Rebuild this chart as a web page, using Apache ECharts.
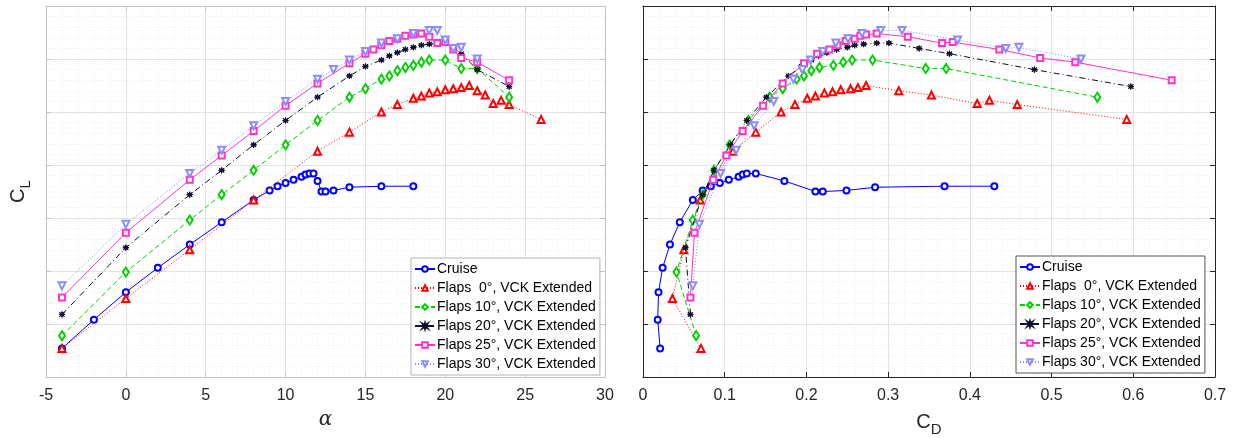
<!DOCTYPE html>
<html>
<head>
<meta charset="utf-8">
<title>Lift curves - cruise and flaps</title>
<script src="https://cdn.jsdelivr.net/npm/echarts@6/dist/echarts.min.js"></script>
<style>
  html, body { margin: 0; padding: 0; background: #fff; }
  #chart { width: 1236px; height: 438px; }
</style>
</head>
<body>
<div id="chart"></div>
<script>
// axis ticks
const alphaTicks = [-5, 0, 5, 10, 15, 20, 25, 30];
const cdTicks = [0, 0.1, 0.2, 0.3, 0.4, 0.5, 0.6, 0.7];
const clTicks = [-0.5, 0, 0.5, 1, 1.5, 2, 2.5, 3];

const seriesNames = [
  'Cruise',
  'Flaps  0°, VCK Extended',
  'Flaps 10°, VCK Extended',
  'Flaps 20°, VCK Extended',
  'Flaps 25°, VCK Extended',
  'Flaps 30°, VCK Extended'
];

// Cruise
const cruiseAlpha = [-4, -2, 0, 2, 4, 6, 8, 9, 9.5, 10, 10.5, 11, 11.25, 11.5, 11.75, 12, 12.25, 12.5, 13, 14, 16, 18];
const cruiseCL = [-0.23, 0.04, 0.30, 0.53, 0.75, 0.96, 1.17, 1.26, 1.30, 1.33, 1.36, 1.39, 1.41, 1.42, 1.42, 1.35, 1.25, 1.25, 1.26, 1.29, 1.30, 1.30];
const cruiseCD = [0.021, 0.018, 0.019, 0.024, 0.033, 0.045, 0.061, 0.073, 0.083, 0.094, 0.105, 0.117, 0.122, 0.127, 0.138, 0.173, 0.211, 0.220, 0.249, 0.284, 0.369, 0.430];

// Flaps 0
const flaps0Alpha = [-4, 0, 4, 8, 12, 14, 16, 17, 18, 18.5, 19, 19.5, 20, 20.5, 21, 21.5, 22, 22.5, 23, 23.5, 24, 26];
const flaps0CL = [-0.23, 0.24, 0.70, 1.17, 1.63, 1.81, 2.00, 2.07, 2.13, 2.15, 2.18, 2.19, 2.21, 2.22, 2.23, 2.25, 2.20, 2.16, 2.08, 2.11, 2.07, 1.93];
const flaps0CD = [0.071, 0.036, 0.050, 0.070, 0.110, 0.138, 0.169, 0.186, 0.201, 0.211, 0.222, 0.232, 0.242, 0.254, 0.263, 0.273, 0.313, 0.353, 0.409, 0.424, 0.458, 0.592];

// Flaps 10
const flaps10Alpha = [-4, 0, 4, 6, 8, 10, 12, 14, 15, 16, 16.5, 17, 17.5, 18, 18.5, 19, 20, 21, 22, 24];
const flaps10CL = [-0.11, 0.49, 0.98, 1.22, 1.45, 1.69, 1.92, 2.14, 2.22, 2.31, 2.34, 2.39, 2.42, 2.44, 2.47, 2.49, 2.49, 2.41, 2.41, 2.14];
const flaps10CD = [0.065, 0.041, 0.061, 0.073, 0.087, 0.106, 0.129, 0.155, 0.171, 0.188, 0.197, 0.206, 0.216, 0.233, 0.245, 0.256, 0.281, 0.346, 0.371, 0.556];

// Flaps 20
const flaps20Alpha = [-4, 0, 4, 6, 8, 10, 12, 14, 15, 16, 16.5, 17, 17.5, 18, 18.5, 19, 19.5, 20, 20.5, 21, 22, 24];
const flaps20CL = [0.09, 0.72, 1.22, 1.45, 1.69, 1.92, 2.14, 2.34, 2.43, 2.49, 2.53, 2.56, 2.59, 2.61, 2.63, 2.64, 2.65, 2.65, 2.60, 2.55, 2.40, 2.24];
const flaps20CD = [0.058, 0.052, 0.073, 0.087, 0.107, 0.127, 0.151, 0.178, 0.194, 0.206, 0.215, 0.225, 0.237, 0.250, 0.259, 0.270, 0.286, 0.301, 0.338, 0.375, 0.479, 0.597];

// Flaps 25
const flaps25Alpha = [-4, 0, 4, 6, 8, 10, 12, 14, 15, 15.5, 16, 16.5, 17, 17.5, 18, 18.5, 19, 19.5, 20, 20.5, 21, 22, 24];
const flaps25CL = [0.25, 0.86, 1.36, 1.59, 1.82, 2.06, 2.27, 2.46, 2.55, 2.59, 2.63, 2.67, 2.69, 2.72, 2.73, 2.74, 2.71, 2.65, 2.66, 2.59, 2.51, 2.47, 2.30];
const flaps25CD = [0.058, 0.063, 0.086, 0.102, 0.122, 0.147, 0.171, 0.197, 0.213, 0.228, 0.238, 0.248, 0.259, 0.266, 0.273, 0.286, 0.324, 0.366, 0.379, 0.436, 0.486, 0.529, 0.647];

// Flaps 30
const flaps30Alpha = [-4, 0, 4, 6, 8, 10, 12, 13, 14, 15, 16, 17, 18, 19, 19.5, 20, 20.5, 21, 22];
const flaps30CL = [0.36, 0.94, 1.42, 1.64, 1.87, 2.10, 2.31, 2.40, 2.49, 2.57, 2.65, 2.69, 2.74, 2.77, 2.77, 2.68, 2.60, 2.61, 2.50];
const flaps30CD = [0.061, 0.069, 0.095, 0.114, 0.136, 0.160, 0.184, 0.195, 0.205, 0.220, 0.236, 0.251, 0.268, 0.291, 0.317, 0.385, 0.444, 0.460, 0.536];

const alphaList = [cruiseAlpha, flaps0Alpha, flaps10Alpha, flaps20Alpha, flaps25Alpha, flaps30Alpha];
const clList = [cruiseCL, flaps0CL, flaps10CL, flaps20CL, flaps25CL, flaps30CL];
const cdList = [cruiseCD, flaps0CD, flaps10CD, flaps20CD, flaps25CD, flaps30CD];

//marker & line looks (matlab style)
const starPath = 'path://M0,-10L2,-3L8,-7L4,-1L10,0L4,1L8,7L2,3L0,10L-2,3L-8,7L-4,1L-10,0L-4,-1L-8,-7L-2,-3Z';
const looks = [
  { color: '#0000ff', symbol: 'emptyCircle', size: 6, type: 'solid' },
  { color: '#ff0000', symbol: 'emptyTriangle', size: 7, type: [1, 2] },
  { color: '#00d000', symbol: 'emptyDiamond', size: [6, 9], type: [5, 3] },
  { color: '#0d0d30', symbol: starPath, size: 6, type: [6, 3, 1, 3] },
  { color: '#ff33cc', symbol: 'emptyRect', size: 6, type: 'solid' },
  { color: '#8c8cff', symbol: 'emptyTriangle', size: 7, type: [1, 2], rotate: 180 }
];

const FONT = '"Liberation Sans", Arial, sans-serif';

function makeSeries(idx, xs, axisIdx) {
  const lk = looks[idx];
  return {
    name: seriesNames[idx],
    type: 'line',
    xAxisIndex: axisIdx,
    yAxisIndex: axisIdx,
    data: xs.map((x, i) => [x, clList[idx][i]]),
    symbol: lk.symbol,
    symbolSize: lk.size,
    symbolRotate: lk.rotate || 0,
    showAllSymbol: true,
    lineStyle: { color: lk.color, width: 1, type: lk.type },
    itemStyle: { color: lk.color, borderColor: lk.color, borderWidth: 1 },
    emphasis: { disabled: true },
    z: 3 + idx
  };
}

function xAxisCfg(ticks, gridIdx, axisColor, extra) {
  return Object.assign({
    type: 'value',
    gridIndex: gridIdx,
    min: ticks[0],
    max: ticks[ticks.length - 1],
    interval: ticks[1] - ticks[0],
    axisLine: { show: true, onZero: false, lineStyle: { color: axisColor, width: 1 } },
    axisTick: { show: true, inside: true, length: 5, lineStyle: { color: axisColor } },
    axisLabel: {
      color: '#262626', fontSize: 16, fontFamily: FONT, margin: 11,
      formatter: v => String(Math.round(v * 10) / 10)
    },
    splitLine: { show: true, lineStyle: { color: '#e3e3e3', width: 1 } },
    minorTick: { show: false, splitNumber: 5 },
    minorSplitLine: { show: true, lineStyle: { color: '#efefef', type: [1, 2] } }
  }, extra);
}

function yAxisCfg(gridIdx, axisColor, extra) {
  return Object.assign({
    type: 'value',
    gridIndex: gridIdx,
    min: clTicks[0],
    max: clTicks[clTicks.length - 1],
    interval: clTicks[1] - clTicks[0],
    axisLine: { show: true, onZero: false, lineStyle: { color: axisColor, width: 1 } },
    axisTick: { show: true, inside: true, length: 5, lineStyle: { color: axisColor } },
    axisLabel: { show: false },
    splitLine: { show: true, lineStyle: { color: '#e3e3e3', width: 1 } },
    minorTick: { show: false, splitNumber: 5 },
    minorSplitLine: { show: true, lineStyle: { color: '#efefef', type: [1, 2] } }
  }, extra);
}

// box-only helper axes (top / right) for the matlab "box on" look
function boxX(ticks, gridIdx, axisColor) {
  return {
    type: 'value', gridIndex: gridIdx, position: 'top',
    min: ticks[0], max: ticks[ticks.length - 1], interval: ticks[1] - ticks[0],
    axisLine: { show: true, onZero: false, lineStyle: { color: axisColor } },
    axisTick: { show: true, inside: true, length: 5, lineStyle: { color: axisColor } },
    axisLabel: { show: false }, splitLine: { show: false }
  };
}
function boxY(gridIdx, axisColor) {
  return {
    type: 'value', gridIndex: gridIdx, position: 'right',
    min: clTicks[0], max: clTicks[clTicks.length - 1], interval: clTicks[1] - clTicks[0],
    axisLine: { show: true, onZero: false, lineStyle: { color: axisColor } },
    axisTick: { show: true, inside: true, length: 5, lineStyle: { color: axisColor } },
    axisLabel: { show: false }, splitLine: { show: false }
  };
}

const leftColor = '#c4c4c4';
const rightColor = '#262626';

function legendCfg(left, top, border) {
  return {
    orient: 'vertical',
    left: left,
    top: top,
    data: seriesNames,
    itemWidth: 20,
    itemHeight: 7,
    itemGap: 5,
    padding: [4, 4, 4, 3],
    backgroundColor: '#ffffff',
    borderColor: border,
    borderWidth: 1,
    borderRadius: 0,
    selectedMode: false,
    textStyle: { color: '#000', fontSize: 14, lineHeight: 14, fontFamily: FONT, padding: [0, 0, 0, -3] }
  };
}

const subRich = {
  c: { fontSize: 20, fontFamily: FONT, color: '#262626', lineHeight: 30 },
  d: { fontSize: 15, fontFamily: FONT, color: '#262626', verticalAlign: 'bottom', lineHeight: 15 }
};

const option = {
  animation: false,
  backgroundColor: '#ffffff',
  // fixed plot boxes, no auto shrink for names
  grid: [
    { left: 46, right: 631, top: 6, bottom: 61, outerBoundsMode: 'none' },
    { left: 643, right: 21, top: 6, bottom: 61, outerBoundsMode: 'none' }
  ],
  legend: [legendCfg(411, 258, '#b4b4b4'), legendCfg(1016, 256, '#555555')],
  xAxis: [
    xAxisCfg(alphaTicks, 0, leftColor, {
      name: 'α', nameLocation: 'middle', nameGap: 33,
      nameTextStyle: { fontSize: 20, fontStyle: 'italic', fontFamily: '"DejaVu Serif", serif', color: '#262626' }
    }),
    xAxisCfg(cdTicks, 1, rightColor, {
      name: '{c|C}{d|D}', nameLocation: 'middle', nameGap: 30,
      nameTextStyle: { color: '#262626', rich: subRich }
    }),
    boxX(alphaTicks, 0, leftColor),
    boxX(cdTicks, 1, rightColor)
  ],
  yAxis: [
    yAxisCfg(0, leftColor, {
      name: '{c|C}{d|L}', nameLocation: 'middle', nameGap: 13, nameRotate: 90,
      nameTextStyle: { color: '#262626', rich: subRich }
    }),
    yAxisCfg(1, rightColor, {}),
    boxY(0, leftColor),
    boxY(1, rightColor)
  ],
  series: []
};

// left: CL vs alpha, right: CL vs CD
seriesNames.forEach((n, i) => {
  option.series.push(makeSeries(i, alphaList[i], 0));
});
seriesNames.forEach((n, i) => {
  option.series.push(makeSeries(i, cdList[i], 1));
});

const chart = echarts.init(document.getElementById('chart'), null, { renderer: 'canvas' });
chart.setOption(option);
</script>
</body>
</html>
